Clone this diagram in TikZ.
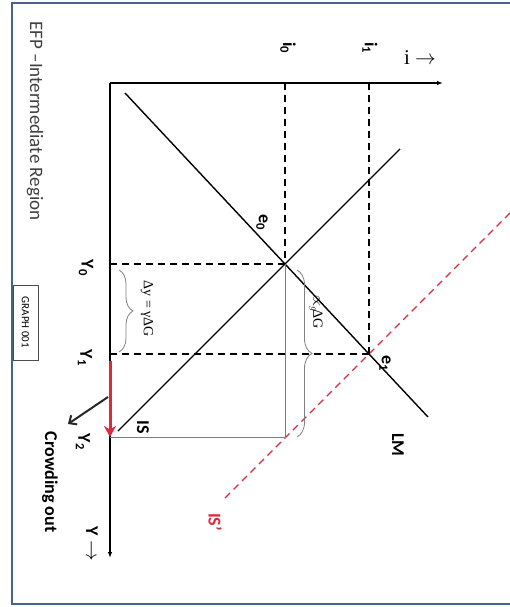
\documentclass[tikz,border=0pt]{standalone}
\usepackage{fontspec}
\setmainfont{Liberation Serif}
\setsansfont{Carlito}
\usetikzlibrary{arrows.meta,decorations.pathreplacing}
\definecolor{framecol}{RGB}{70,100,135}
\definecolor{guideblue}{RGB}{85,135,180}
\definecolor{isred}{RGB}{222,40,60}

\begin{document}
\begin{tikzpicture}[x=1pt, y=-1pt,
  axis/.style={line width=1.3pt, -{Latex[length=6pt,width=4.5pt]}},
  curve/.style={line width=1.4pt},
  guide/.style={line width=1.4pt, dash pattern=on 7pt off 5pt},
  lbl/.style={font=\sffamily\bfseries\fontsize{18}{20}\selectfont,
              rotate=-90, inner sep=0pt},
  mlbl/.style={font=\fontsize{14}{16}\selectfont, rotate=-90, inner sep=0pt},
  brc/.style={decorate, decoration={brace, amplitude=#1}, gray, line width=0.8pt},
]
\useasboundingbox (0,0) rectangle (510,607);
\clip (0,0) rectangle (510,607);

% Rahmen und Titel
\draw[framecol, line width=1.6pt] (12,3) rectangle (530,604);
\node[font=\sffamily\fontsize{19}{21}\selectfont, black!75, rotate=-90,
      inner sep=0pt] (title) at (35,121) {EFP –Intermediate Region};
\node[draw=black!70, line width=0.5pt, rotate=-90, minimum width=75pt,
      minimum height=25pt, inner sep=0pt,
      font=\sffamily\fontsize{11}{13}\selectfont] (gbox) at (25.5,322.5) {GRAPH 001};

% Punkte
\coordinate (O) at (110,83);
\coordinate (iend) at (443,83);
\coordinate (Yend) at (110,558);
\coordinate (e0) at (285,264);
\coordinate (e1) at (369,354);
\coordinate (i0) at (285,83);
\coordinate (i1) at (369,83);
\coordinate (y0) at (110,264);
\coordinate (y1) at (110,354);
\coordinate (y2) at (110,437);
\coordinate (c2) at (285,437);

% Achsen
\draw[axis] (O) -- (iend);
\draw[axis] (O) -- (Yend);
\node[font=\fontsize{21}{23}\selectfont, inner sep=0pt] (ilab) at (420,58) {i $\rightarrow$};
\node[lbl] (Ylab) at (92,544) {Y {\fontsize{21}{23}\selectfont$\rightarrow$}};

% Kurven
\draw[curve] (125,93) -- (e0) -- (e1) -- (428,417);
\draw[curve] (400,149) -- (e0) -- (118,431);
\draw[isred, line width=1.3pt, dash pattern=on 7pt off 5pt] (510,213) -- (e1) -- (225,498);

% Hilfslinien
\draw[guide] (i0) -- (e0);
\draw[guide] (y0) -- (e0);
\draw[guide] (i1) -- (e1);
\draw[guide] (y1) -- (e1);
\draw[guideblue, line width=0.7pt] (e0) -- (c2) -- (y2);

% Klammern
\draw[brc=14pt] (119,270) -- (119,352);
\draw[brc=15pt] (297,270) -- (297,437);
\node[mlbl] (dy) at (147,309) {Δy = γΔG};
\node[mlbl] (ag) at (316,312) {$\propto_g\!$ΔG};

% Pfeile
\draw[isred, line width=3pt, -{Stealth[length=11pt,width=12pt]}] (110,361) -- (y2);
\draw[black!85, line width=2pt, -{Straight Barb[length=6pt,width=11pt]}] (108,397) -- (68,424);

% Beschriftungen
\node[lbl] (i0lab) at (288,48) {i\textsubscript{0}};
\node[lbl] (i1lab) at (370,48) {i\textsubscript{1}};
\node[lbl] (Y0lab) at (86,268) {Y\textsubscript{0}};
\node[lbl] (Y1lab) at (85,358) {Y\textsubscript{1}};
\node[lbl] (Y2lab) at (83,442) {Y\textsubscript{2}};
\node[lbl] (e0lab) at (262,222) {e\textsubscript{0}};
\node[lbl] (e1lab) at (385,363) {e\textsubscript{1}};
\node[lbl] (ISlab) at (143,427) {IS};
\node[lbl] (LMlab) at (398,445) {LM};
\node[lbl, isred] (ISplab) at (215,522) {IS’};
\node[lbl] (crowd) at (50,482) {Crowding out};
\end{tikzpicture}
\end{document}
